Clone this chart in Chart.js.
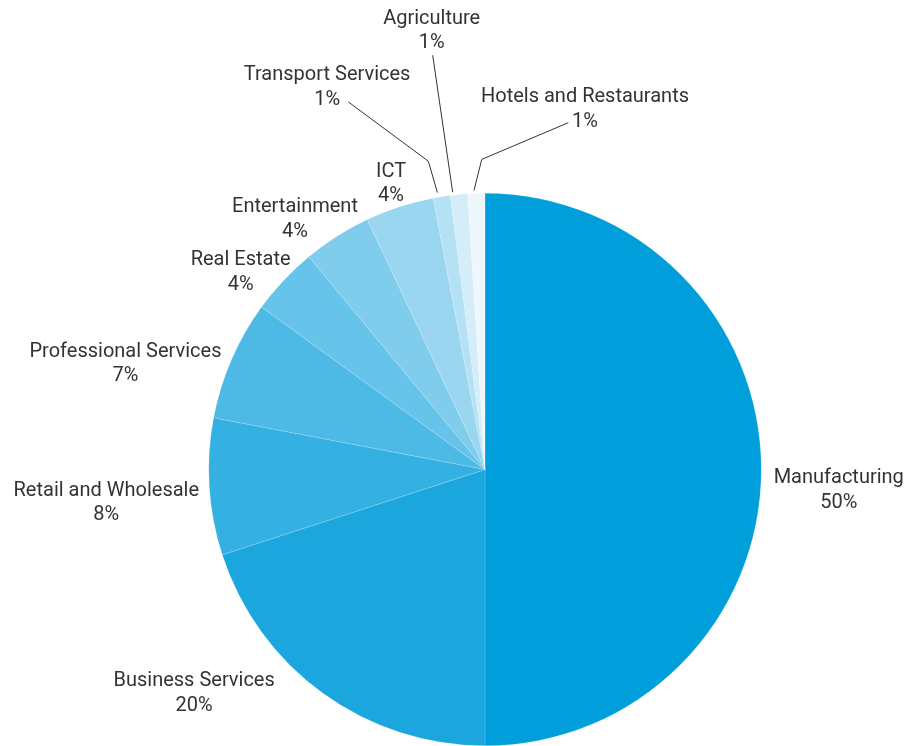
<!DOCTYPE html>
<html>
<head>
<meta charset="utf-8">
<script src="https://cdn.jsdelivr.net/npm/chart.js@4/dist/chart.umd.min.js"></script>
<style>
  html, body { margin: 0; padding: 0; background: #fff; }
  #wrap { width: 909px; height: 746px; position: relative; }
</style>
</head>
<body>
<div id="wrap"><canvas id="pie"></canvas></div>
<script>
const sectors = ['Manufacturing', 'Business Services', 'Retail and Wholesale', 'Professional Services',
  'Real Estate', 'Entertainment', 'ICT', 'Transport Services', 'Agriculture', 'Hotels and Restaurants'];
const shares = [50, 20, 8, 7, 4, 4, 4, 1, 1, 1];
const colors = ['#009fdb', '#1ba7de', '#34b1e2', '#4dbae6', '#66c3e9', '#80cced', '#9ad6f0',
  '#b5e1f4', '#d4edf8', '#eef8fc'];

// label placement: offset of text centre / first baseline from the slice's outer mid point
const labelOff = [[77.5, 13.5], [-128.5, -6.5], [-103, 8.8], [-106, -3], [-43, -15], [-42, -24],
  [-8.6, -30], [-114.7, -116.4], [-27.3, -170.9], [108.7, -91.3]];
// leader lines for the thin slices, same reference point
const leaders = {
  7: [[-4.4, -4.1], [-13.4, -35.4], [-93.4, -94.7]],
  8: [[-6.3, -2.2], [-26.3, -139.2]],
  9: [[-2.3, -3], [5.4, -34], [92, -70.7]],
};

const labels = {
  id: 'labels',
  afterDatasetsDraw(c) {
    const ctx = c.ctx;
    const arcs = c.getDatasetMeta(0).data;
    ctx.save();
    ctx.font = '20px Roboto, "Open Sans", sans-serif';
    ctx.fillStyle = '#333';
    ctx.strokeStyle = '#333';
    ctx.lineWidth = 1;
    ctx.textAlign = 'center';
    ctx.textBaseline = 'alphabetic';
    arcs.forEach((a, i) => {
      const mid = (a.startAngle + a.endAngle) / 2;
      const px = a.x + Math.cos(mid) * a.outerRadius;
      const py = a.y + Math.sin(mid) * a.outerRadius;
      const [dx, dy] = labelOff[i];
      ctx.fillText(sectors[i], px + dx, py + dy);
      ctx.fillText(shares[i] + '%', px + dx, py + dy + 24.5);
      const l = leaders[i];
      if (l) {
        ctx.beginPath();
        l.forEach(([lx, ly], k) => k ? ctx.lineTo(px + lx, py + ly) : ctx.moveTo(px + lx, py + ly));
        ctx.stroke();
      }
    });
    ctx.restore();
  }
};

new Chart(document.getElementById('pie'), {
  type: 'pie',
  data: { labels: sectors, datasets: [{
    data: shares, backgroundColor: colors,
    borderColor: 'rgba(255,255,255,0.3)', borderWidth: 0.5,
  }]},
  options: {
    responsive: true, maintainAspectRatio: false, animation: false,
    layout: { padding: { top: 193, bottom: 0, left: 208, right: 147 } },
    plugins: { legend: { display: false }, tooltip: { enabled: false } },
  },
  plugins: [labels],
});
</script>
</body>
</html>
